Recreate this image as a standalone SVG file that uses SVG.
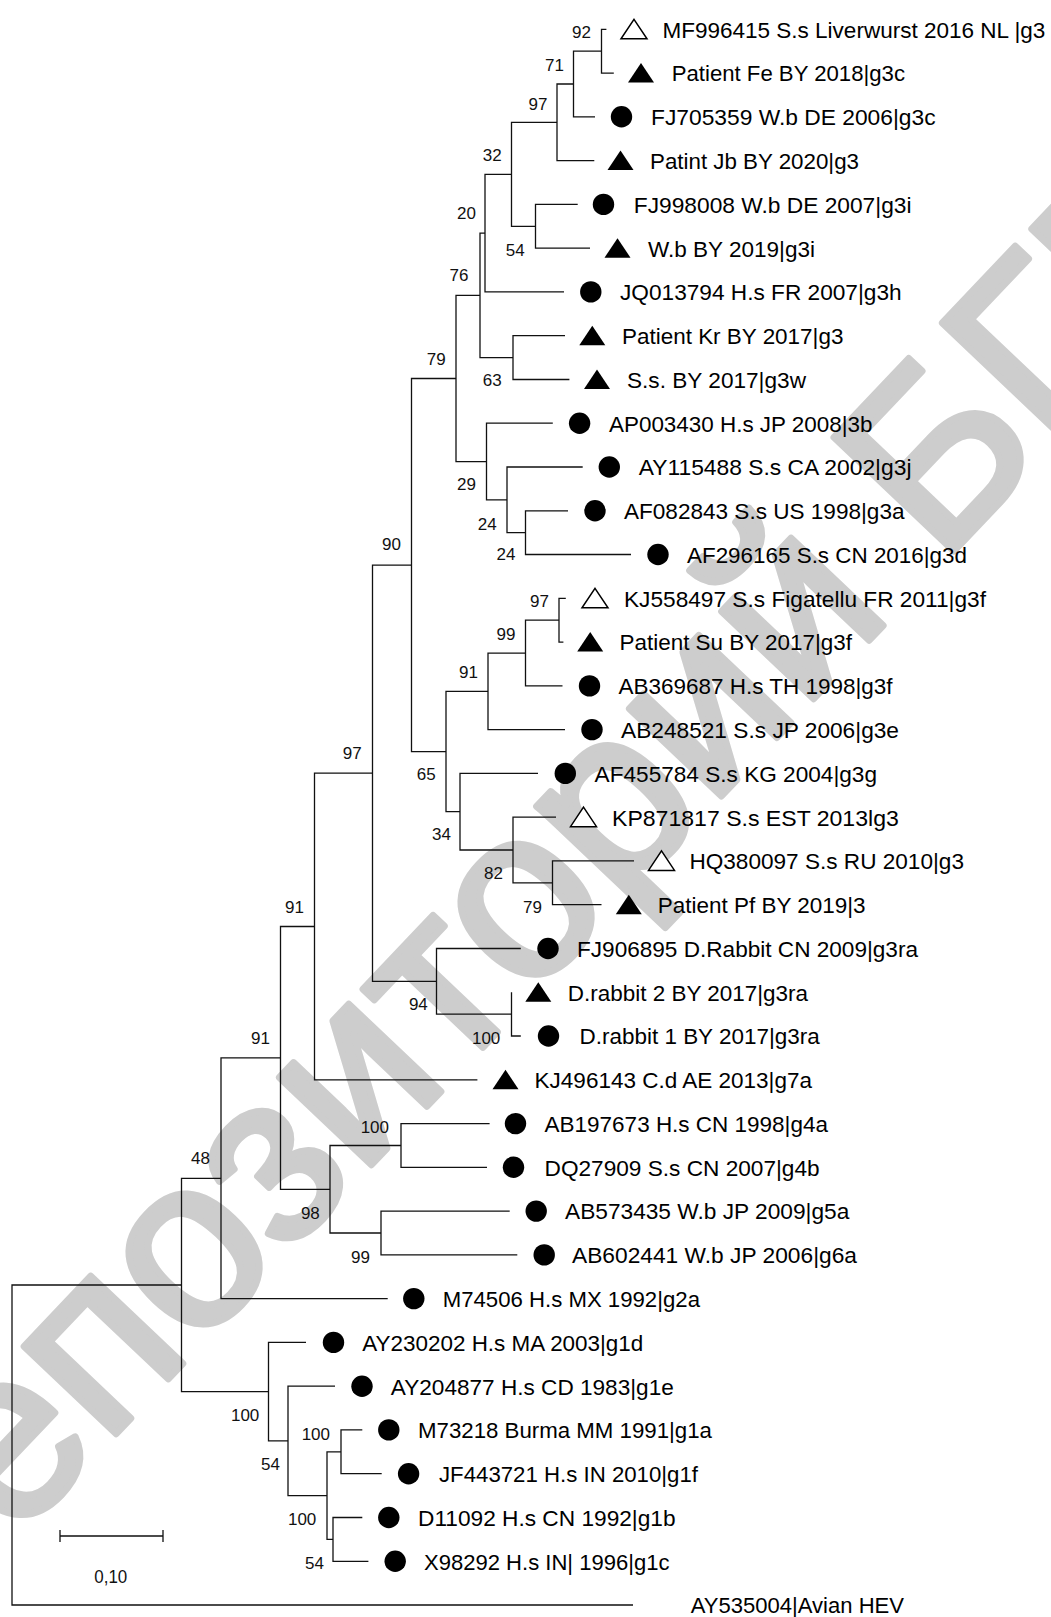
<svg xmlns="http://www.w3.org/2000/svg" xmlns:xlink="http://www.w3.org/1999/xlink" width="1051" height="1617" viewBox="0 0 1051 1617">
<style>
.wm{font-family:"Liberation Sans",Arial,sans-serif;font-size:240px;fill:#cdcdcd;stroke:#cdcdcd;stroke-width:7;stroke-linejoin:round}
.br{fill:none;stroke:#111;stroke-width:1.3}
.lab{font-family:"Liberation Sans",Arial,sans-serif;font-size:22.5px;fill:#000}
.bs{font-family:"Liberation Sans",Arial,sans-serif;font-size:17px;fill:#111;text-anchor:end}
.f{fill:#000}
.o{fill:#fff;stroke:#000;stroke-width:1.5}
</style>
<defs>
<path id="tri" d="M0,-10 L13,9.5 L-13,9.5 Z"/>
<circle id="dot" r="10.7"/>
</defs>
<rect width="1051" height="1617" fill="#fff"/>
<text class="wm" transform="translate(-90 1651) rotate(-46.5)">Репозиторий БГПУ</text>

<g id="connectors" class="br">
<path d="M181.5,1285 H12 V1605 H633"/>
<path d="M221,1178.3 H181.5 V1391.7 H268.5"/>
<path d="M280.5,1057.9 H221 V1298.6 H387.7"/>
<path d="M314.5,926.5 H280.5 V1189.3 H330"/>
<path d="M372.5,773.2 H314.5 V1079.8 H477.4"/>
<path d="M411.5,565.1 H372.5 V981.3 H436.5"/>
<path d="M456,378.5 H411.5 V751.6 H446"/>
<path d="M480,295.4 H456 V461.6 H486.5"/>
<path d="M485,233.1 H480 V357.6 H513"/>
<path d="M511.5,174.3 H485 V291.9 H564"/>
<path d="M557,122.3 H511.5 V226.3 H535.5"/>
<path d="M573.5,84 H557 V160.6 H594.3"/>
<path d="M601.5,51.2 H573.5 V116.8 H595"/>
<path d="M606.4,29.3 H601.5 V73.1 H613.8"/>
<path d="M577.7,204.4 H535.5 V248.2 H590"/>
<path d="M565,335.7 H513 V379.5 H569.4"/>
<path d="M552.8,423.2 H486.5 V499.9 H507"/>
<path d="M582.7,467 H507 V532.7 H525.5"/>
<path d="M568,510.8 H525.5 V554.5 H631"/>
<path d="M488,691.4 H446 V811.7 H460"/>
<path d="M525.5,653.1 H488 V729.6 H565"/>
<path d="M559,620.2 H525.5 V685.9 H562.5"/>
<path d="M565.8,598.3 H559 V642.1 H563.4"/>
<path d="M538,773.4 H460 V850 H513"/>
<path d="M556,817.2 H513 V882.8 H552.5"/>
<path d="M634,860.9 H552.5 V904.7 H601.5"/>
<path d="M520.8,948.5 H436.5 V1014.1 H511.5"/>
<path d="M511.5,992.2 V1036 H520.8"/>
<path d="M401,1145.5 H330 V1233 H381"/>
<path d="M489.6,1123.6 H401 V1167.3 H487"/>
<path d="M509.7,1211.1 H381 V1254.9 H517.3"/>
<path d="M306,1342.4 H268.5 V1440.9 H288"/>
<path d="M335,1386.2 H288 V1495.6 H327"/>
<path d="M341,1451.8 H327 V1539.4 H333"/>
<path d="M362.3,1429.9 H341 V1473.7 H381.7"/>
<path d="M362.3,1517.5 H333 V1561.3 H368.4"/>
</g>

<g id="support">
<text class="bs" x="591" y="37.9">92</text>
<text class="bs" x="564" y="71.2">71</text>
<text class="bs" x="547.4" y="109.5">97</text>
<text class="bs" x="501.7" y="161.2">32</text>
<text class="bs" x="476" y="219.2">20</text>
<text class="bs" x="524.6" y="255.5">54</text>
<text class="bs" x="468.5" y="281.2">76</text>
<text class="bs" x="445.7" y="364.5">79</text>
<text class="bs" x="501.7" y="386.2">63</text>
<text class="bs" x="476" y="489.5">29</text>
<text class="bs" x="496.7" y="529.5">24</text>
<text class="bs" x="515.4" y="559.5">24</text>
<text class="bs" x="401" y="550">90</text>
<text class="bs" x="549" y="606.9">97</text>
<text class="bs" x="515.5" y="640.2">99</text>
<text class="bs" x="478" y="677.9">91</text>
<text class="bs" x="361.7" y="759">97</text>
<text class="bs" x="435.6" y="779.5">65</text>
<text class="bs" x="451" y="839.5">34</text>
<text class="bs" x="503" y="878.9">82</text>
<text class="bs" x="542" y="912.9">79</text>
<text class="bs" x="304" y="912.7">91</text>
<text class="bs" x="427.8" y="1010.2">94</text>
<text class="bs" x="500.3" y="1043.5">100</text>
<text class="bs" x="270" y="1043.7">91</text>
<text class="bs" x="389" y="1132.9">100</text>
<text class="bs" x="210" y="1163.7">48</text>
<text class="bs" x="319.8" y="1218.9">98</text>
<text class="bs" x="370" y="1262.9">99</text>
<text class="bs" x="259.3" y="1420.5">100</text>
<text class="bs" x="280" y="1469.5">54</text>
<text class="bs" x="330" y="1439.5">100</text>
<text class="bs" x="316.3" y="1525.2">100</text>
<text class="bs" x="324" y="1568.9">54</text>
</g>

<g id="leaf-01"><use href="#tri" x="634" y="29.3" class="o"/><text class="lab" x="662.4" y="37.6" textLength="383" lengthAdjust="spacingAndGlyphs">MF996415 S.s Liverwurst 2016 NL |g3</text></g>
<g id="leaf-02"><use href="#tri" x="641" y="73.1" class="f"/><text class="lab" x="671.7" y="81.4" textLength="233.3" lengthAdjust="spacingAndGlyphs">Patient Fe BY 2018|g3c</text></g>
<g id="leaf-03"><use href="#dot" x="621.5" y="116.8" class="f"/><text class="lab" x="651" y="125.1" textLength="284.6" lengthAdjust="spacingAndGlyphs">FJ705359 W.b DE 2006|g3c</text></g>
<g id="leaf-04"><use href="#tri" x="620.5" y="160.6" class="f"/><text class="lab" x="650" y="168.9" textLength="209" lengthAdjust="spacingAndGlyphs">Patint Jb BY 2020|g3</text></g>
<g id="leaf-05"><use href="#dot" x="603.5" y="204.4" class="f"/><text class="lab" x="633.8" y="212.7" textLength="277.7" lengthAdjust="spacingAndGlyphs">FJ998008 W.b DE 2007|g3i</text></g>
<g id="leaf-06"><use href="#tri" x="617.5" y="248.2" class="f"/><text class="lab" x="648" y="256.5" textLength="167" lengthAdjust="spacingAndGlyphs">W.b BY 2019|g3i</text></g>
<g id="leaf-07"><use href="#dot" x="590.8" y="291.9" class="f"/><text class="lab" x="620" y="300.2" textLength="281.6" lengthAdjust="spacingAndGlyphs">JQ013794 H.s FR 2007|g3h</text></g>
<g id="leaf-08"><use href="#tri" x="592.3" y="335.7" class="f"/><text class="lab" x="622" y="344" textLength="221.4" lengthAdjust="spacingAndGlyphs">Patient Kr BY 2017|g3</text></g>
<g id="leaf-09"><use href="#tri" x="597" y="379.5" class="f"/><text class="lab" x="627" y="387.8" textLength="179" lengthAdjust="spacingAndGlyphs">S.s. BY 2017|g3w</text></g>
<g id="leaf-10"><use href="#dot" x="579.6" y="423.2" class="f"/><text class="lab" x="609" y="431.5" textLength="263.5" lengthAdjust="spacingAndGlyphs">AP003430 H.s JP 2008|3b</text></g>
<g id="leaf-11"><use href="#dot" x="609.3" y="467" class="f"/><text class="lab" x="638.7" y="475.3" textLength="272.8" lengthAdjust="spacingAndGlyphs">AY115488 S.s CA 2002|g3j</text></g>
<g id="leaf-12"><use href="#dot" x="595" y="510.8" class="f"/><text class="lab" x="624" y="519.1" textLength="280.5" lengthAdjust="spacingAndGlyphs">AF082843 S.s US 1998|g3a</text></g>
<g id="leaf-13"><use href="#dot" x="658" y="554.5" class="f"/><text class="lab" x="687" y="562.8" textLength="280" lengthAdjust="spacingAndGlyphs">AF296165 S.s CN 2016|g3d</text></g>
<g id="leaf-14"><use href="#tri" x="595" y="598.3" class="o"/><text class="lab" x="624" y="606.6" textLength="362" lengthAdjust="spacingAndGlyphs">KJ558497 S.s Figatellu FR 2011|g3f</text></g>
<g id="leaf-15"><use href="#tri" x="590.2" y="642.1" class="f"/><text class="lab" x="619.5" y="650.4" textLength="232.5" lengthAdjust="spacingAndGlyphs">Patient Su BY 2017|g3f</text></g>
<g id="leaf-16"><use href="#dot" x="589.5" y="685.9" class="f"/><text class="lab" x="618.5" y="694.2" textLength="274" lengthAdjust="spacingAndGlyphs">AB369687 H.s TH 1998|g3f</text></g>
<g id="leaf-17"><use href="#dot" x="592" y="729.6" class="f"/><text class="lab" x="621" y="737.9" textLength="278" lengthAdjust="spacingAndGlyphs">AB248521 S.s JP 2006|g3e</text></g>
<g id="leaf-18"><use href="#dot" x="565.3" y="773.4" class="f"/><text class="lab" x="594.6" y="781.7" textLength="282.4" lengthAdjust="spacingAndGlyphs">AF455784 S.s KG 2004|g3g</text></g>
<g id="leaf-19"><use href="#tri" x="583.5" y="817.2" class="o"/><text class="lab" x="612" y="825.5" textLength="286.8" lengthAdjust="spacingAndGlyphs">KP871817 S.s EST 2013lg3</text></g>
<g id="leaf-20"><use href="#tri" x="661.5" y="860.9" class="o"/><text class="lab" x="689.4" y="869.2" textLength="274.6" lengthAdjust="spacingAndGlyphs">HQ380097 S.s RU 2010|g3</text></g>
<g id="leaf-21"><use href="#tri" x="628.8" y="904.7" class="f"/><text class="lab" x="657.7" y="913" textLength="207.9" lengthAdjust="spacingAndGlyphs">Patient Pf BY 2019|3</text></g>
<g id="leaf-22"><use href="#dot" x="548" y="948.5" class="f"/><text class="lab" x="577" y="956.8" textLength="341" lengthAdjust="spacingAndGlyphs">FJ906895 D.Rabbit CN 2009|g3ra</text></g>
<g id="leaf-23"><use href="#tri" x="538.3" y="992.2" class="f"/><text class="lab" x="567.8" y="1000.5" textLength="240.2" lengthAdjust="spacingAndGlyphs">D.rabbit 2 BY 2017|g3ra</text></g>
<g id="leaf-24"><use href="#dot" x="548.5" y="1036" class="f"/><text class="lab" x="579.5" y="1044.3" textLength="240.2" lengthAdjust="spacingAndGlyphs">D.rabbit 1 BY 2017|g3ra</text></g>
<g id="leaf-25"><use href="#tri" x="505.5" y="1079.8" class="f"/><text class="lab" x="534.6" y="1088.1" textLength="277.4" lengthAdjust="spacingAndGlyphs">KJ496143 C.d AE 2013|g7a</text></g>
<g id="leaf-26"><use href="#dot" x="515.5" y="1123.6" class="f"/><text class="lab" x="544.6" y="1131.9" textLength="283.4" lengthAdjust="spacingAndGlyphs">AB197673 H.s CN 1998|g4a</text></g>
<g id="leaf-27"><use href="#dot" x="513.5" y="1167.3" class="f"/><text class="lab" x="544.6" y="1175.6" textLength="275" lengthAdjust="spacingAndGlyphs">DQ27909 S.s CN 2007|g4b</text></g>
<g id="leaf-28"><use href="#dot" x="536.2" y="1211.1" class="f"/><text class="lab" x="565" y="1219.4" textLength="284.3" lengthAdjust="spacingAndGlyphs">AB573435 W.b JP 2009|g5a</text></g>
<g id="leaf-29"><use href="#dot" x="544.2" y="1254.9" class="f"/><text class="lab" x="572" y="1263.2" textLength="285" lengthAdjust="spacingAndGlyphs">AB602441 W.b JP 2006|g6a</text></g>
<g id="leaf-30"><use href="#dot" x="413.8" y="1298.6" class="f"/><text class="lab" x="442.7" y="1306.9" textLength="257.3" lengthAdjust="spacingAndGlyphs">M74506 H.s MX 1992|g2a</text></g>
<g id="leaf-31"><use href="#dot" x="333.5" y="1342.4" class="f"/><text class="lab" x="362.3" y="1350.7" textLength="281" lengthAdjust="spacingAndGlyphs">AY230202 H.s MA 2003|g1d</text></g>
<g id="leaf-32"><use href="#dot" x="362" y="1386.2" class="f"/><text class="lab" x="390.8" y="1394.5" textLength="283" lengthAdjust="spacingAndGlyphs">AY204877 H.s CD 1983|g1e</text></g>
<g id="leaf-33"><use href="#dot" x="388.8" y="1429.9" class="f"/><text class="lab" x="418" y="1438.2" textLength="294" lengthAdjust="spacingAndGlyphs">M73218 Burma MM 1991|g1a</text></g>
<g id="leaf-34"><use href="#dot" x="408.6" y="1473.7" class="f"/><text class="lab" x="439" y="1482" textLength="259" lengthAdjust="spacingAndGlyphs">JF443721 H.s IN 2010|g1f</text></g>
<g id="leaf-35"><use href="#dot" x="388.8" y="1517.5" class="f"/><text class="lab" x="418" y="1525.8" textLength="257.6" lengthAdjust="spacingAndGlyphs">D11092 H.s CN 1992|g1b</text></g>
<g id="leaf-36"><use href="#dot" x="395.2" y="1561.3" class="f"/><text class="lab" x="424" y="1569.6" textLength="245.5" lengthAdjust="spacingAndGlyphs">X98292 H.s IN| 1996|g1c</text></g>
<g id="leaf-37"><text class="lab" x="690.7" y="1613.3" textLength="213.3" lengthAdjust="spacingAndGlyphs">AY535004|Avian HEV</text></g>

<g id="scale-bar">
<path class="br" d="M60,1530 V1542 M60,1536 H163 M163,1530 V1542"/>
<text x="94.3" y="1582.5" font-family="Liberation Sans, Arial, sans-serif" font-size="18" fill="#111" textLength="33" lengthAdjust="spacingAndGlyphs">0,10</text>
</g>
</svg>
